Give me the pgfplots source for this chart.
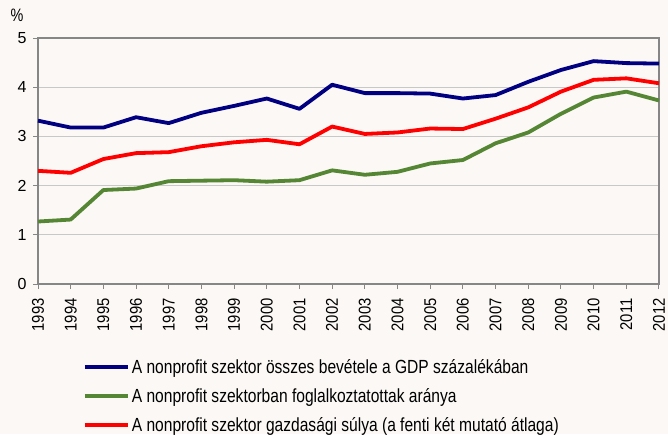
\documentclass[border=0pt]{standalone}
\usepackage{fontspec}
\setmainfont{Liberation Sans}
\newfontfamily\legfont{Liberation Sans}[FakeStretch=0.82]
\newfontfamily\xtfont{Liberation Sans}[FakeStretch=0.87]
\newfontfamily\pctfont{Liberation Sans}[FakeStretch=0.8]
\usepackage{pgfplots}
\pgfplotsset{compat=1.18}
\definecolor{bgc}{RGB}{251,248,245}
\definecolor{cblue}{RGB}{0,0,128}
\definecolor{cgreen}{RGB}{84,134,52}
\definecolor{cred}{RGB}{255,0,0}
\definecolor{axgray}{RGB}{134,134,134}
\definecolor{gridgray}{RGB}{200,200,200}
\begin{document}
\begin{tikzpicture}
\fill[bgc, use as bounding box] (-38pt,-150pt) rectangle (630pt,284pt);
\begin{axis}[
  at={(0pt,0pt)}, anchor=south west,
  scale only axis, width=621pt, height=246pt,
  xmin=1993, xmax=2012, ymin=0, ymax=5,
  xtick={1993,...,2012}, ytick={0,...,5},
  ymajorgrids, grid style={gridgray, line width=1pt},
  axis line style={axgray, line width=2pt},
  tick style={axgray, line width=1pt}, tick align=outside, major tick length=5pt,
  xtick pos=bottom, ytick pos=left,
  /pgf/number format/assume math mode=true,
  /pgf/number format/1000 sep={},
  x tick label style={rotate=90, anchor=east, font=\xtfont\fontsize{17}{17}\selectfont},
  xticklabel shift=6pt,
  y tick label style={font=\fontsize{16}{16}\selectfont},
  yticklabel shift=3pt,
  legend style={draw=none, fill=none, at={(0.0725,-0.297)}, anchor=north west,
    inner sep=0pt, outer sep=0pt,
    font=\legfont\fontsize{19}{20}\selectfont, row sep=9.5pt, nodes={inner sep=2pt}},
  legend cell align=left,
  legend image code/.code={\draw[#1] (0pt,0pt) -- (43pt,0pt);},
  every axis plot/.append style={line width=3.8pt, line join=round},
  clip=false,
]
\addplot[cblue] coordinates {
(1993,3.32) (1994,3.18) (1995,3.18) (1996,3.39) (1997,3.27) (1998,3.48)
(1999,3.62) (2000,3.77) (2001,3.56) (2002,4.05) (2003,3.88) (2004,3.88)
(2005,3.87) (2006,3.77) (2007,3.84) (2008,4.11) (2009,4.35) (2010,4.53)
(2011,4.49) (2012,4.48)};
\addlegendentry{A nonprofit szektor összes bevétele a GDP százalékában}
\addplot[cgreen] coordinates {
(1993,1.27) (1994,1.31) (1995,1.91) (1996,1.94) (1997,2.09) (1998,2.10)
(1999,2.11) (2000,2.08) (2001,2.11) (2002,2.31) (2003,2.22) (2004,2.28)
(2005,2.45) (2006,2.52) (2007,2.86) (2008,3.08) (2009,3.46) (2010,3.79)
(2011,3.91) (2012,3.73)};
\addlegendentry{A nonprofit szektorban foglalkoztatottak aránya}
\addplot[cred] coordinates {
(1993,2.30) (1994,2.26) (1995,2.54) (1996,2.66) (1997,2.68) (1998,2.80)
(1999,2.88) (2000,2.93) (2001,2.84) (2002,3.20) (2003,3.05) (2004,3.08)
(2005,3.16) (2006,3.15) (2007,3.36) (2008,3.59) (2009,3.91) (2010,4.15)
(2011,4.18) (2012,4.08)};
\addlegendentry{A nonprofit szektor gazdasági súlya (a fenti két mutató átlaga)}
\node[font=\pctfont\fontsize{18}{18}\selectfont] at (rel axis cs:0,1) [xshift=-21pt, yshift=22.5pt] {\%};
\end{axis}
\end{tikzpicture}
\end{document}
